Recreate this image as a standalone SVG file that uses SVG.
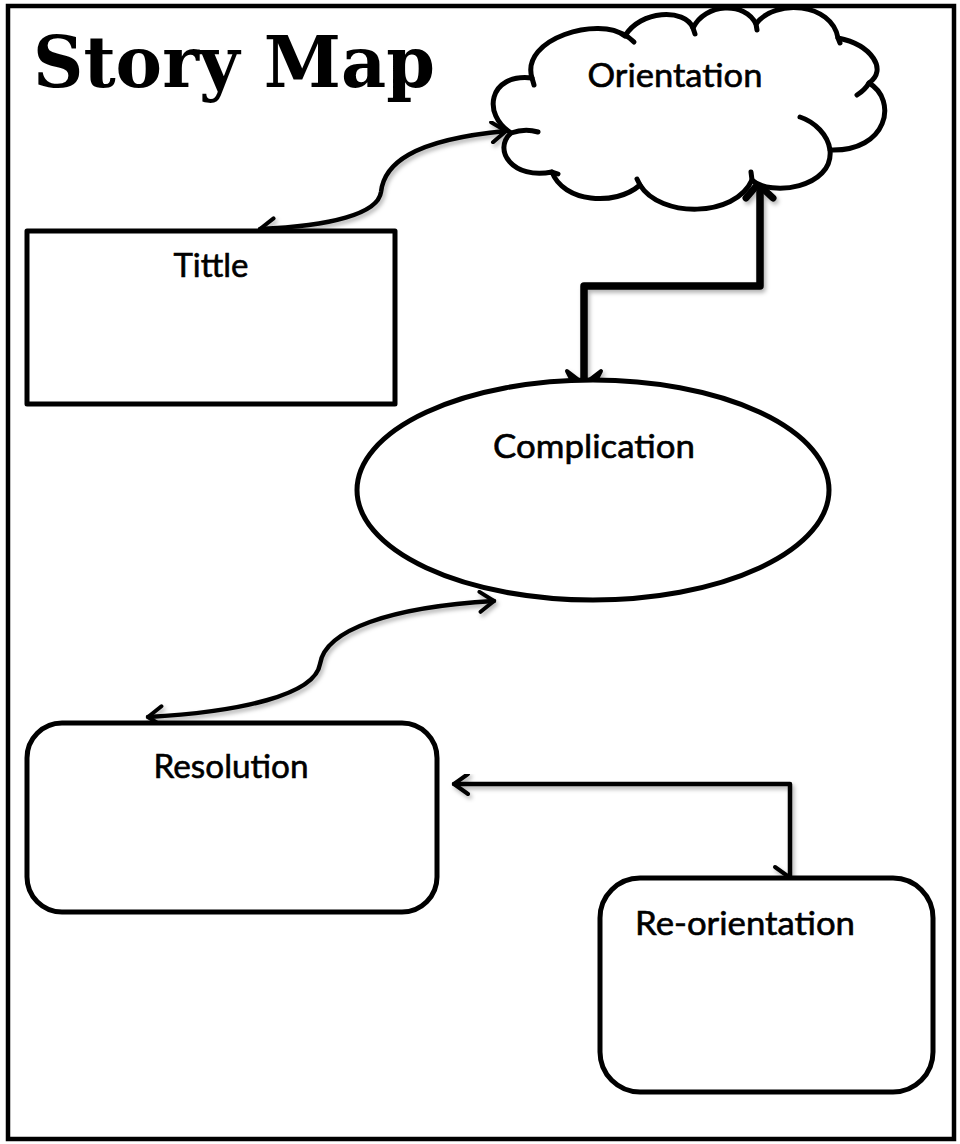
<svg xmlns="http://www.w3.org/2000/svg" width="960" height="1144" viewBox="0 0 960 1144">
  <defs>
    <style>
      .shape { fill: #ffffff; stroke: #000000; stroke-width: 5; }
      .line { fill: none; stroke: #000000; stroke-linecap: round; stroke-linejoin: round; }
      .label { font-family: "Lato", "Open Sans", "Liberation Sans", sans-serif; font-size: 33px; fill: #000000; stroke: #000000; stroke-width: 0.6; }
      .title { font-family: "DejaVu Serif", "Liberation Serif", serif; font-weight: bold; font-size: 71px; fill: #000000; }
    </style>
    <filter id="shadow" x="-10%" y="-10%" width="130%" height="130%">
      <feDropShadow dx="2" dy="3" stdDeviation="2" flood-color="#000000" flood-opacity="0.3"/>
    </filter>
    <marker id="vhead" viewBox="0 0 20 24" markerWidth="20" markerHeight="24" refX="17" refY="12" markerUnits="userSpaceOnUse" orient="auto-start-reverse">
      <path d="M3,2 L17,12 L3,22" fill="none" stroke="#000" stroke-width="4" stroke-linecap="round" stroke-linejoin="round"/>
    </marker>
  </defs>

  <rect id="page-border" x="8" y="6" width="946" height="1133" fill="#ffffff" stroke="#000000" stroke-width="4.5"/>

  <g id="title">
    <text class="title" x="33" y="87" textLength="402" lengthAdjust="spacingAndGlyphs">Story Map</text>
  </g>

  <g id="connectors">
    <path class="line" filter="url(#shadow)" stroke-width="4.5" marker-start="url(#vhead)" marker-end="url(#vhead)" d="M260,229 C330,226 378,214 381,192 C384,165 410,140 506,131"/>
    <path class="line" filter="url(#shadow)" stroke-width="4.5" marker-start="url(#vhead)" marker-end="url(#vhead)" d="M148,717 C240,712 315,695 320,664 C325,630 390,607 494,601"/>
    <g filter="url(#shadow)">
      <path class="line" stroke-width="7.5" d="M760,192 L760,286 L584,286 L584,390"/>
      <path d="M567,371 L584,404 L601,371 L584,384 Z" fill="#000" stroke="#000" stroke-width="4" stroke-linejoin="round"/>
      <path class="line" stroke-width="7" d="M746,198 L758,184 L773,198"/>
    </g>
    <g filter="url(#shadow)">
      <path class="line" stroke-width="4.5" marker-start="url(#vhead)" d="M454,784 L790,784 L790,876"/>
      <path class="line" stroke-width="4" d="M775,867 L789,877"/>
    </g>
  </g>

  <g id="orientation">
    <path class="shape" stroke-linejoin="round" d="M532,78 C520,38 600,16 625,36 C640,10 685,8 693,28 C705,3 745,1 756,24 C775,-2 832,3 838,38 C872,45 888,70 869,83 C898,100 888,152 830,150 C834,188 770,197 752,180 C735,218 660,218 640,185 C615,207 563,202 552,172 C513,180 492,150 511,133 C482,115 488,73 532,78 Z"/>
    <g class="line" stroke-width="5">
      <path d="M532,78 L534,85"/>
      <path d="M623,34 Q629,37 634,42"/>
      <path d="M693,28 L695,34"/>
      <path d="M756,24 L757,30"/>
      <path d="M838,38 L840,43"/>
      <path d="M869,83 Q865,90 857,95"/>
      <path d="M800,117 C815,122 828,135 830,150"/>
      <path d="M752,180 L751,172"/>
      <path d="M640,185 L637,179"/>
      <path d="M552,172 L558,174"/>
      <path d="M511,133 Q525,128 538,132"/>
    </g>
    <text class="label" x="675" y="87" text-anchor="middle" textLength="175" lengthAdjust="spacingAndGlyphs">Orientation</text>
  </g>

  <g id="tittle">
    <rect class="shape" x="27" y="231" width="368" height="173" stroke-linejoin="round"/>
    <text class="label" x="211" y="277" text-anchor="middle" textLength="75" lengthAdjust="spacingAndGlyphs">Tittle</text>
  </g>

  <g id="complication">
    <ellipse class="shape" cx="593" cy="490" rx="236" ry="110"/>
    <text class="label" x="594" y="458" text-anchor="middle" textLength="202" lengthAdjust="spacingAndGlyphs">Complication</text>
  </g>

  <g id="resolution">
    <rect class="shape" x="27" y="723" width="410" height="189" rx="35" ry="35"/>
    <text class="label" x="231" y="778" text-anchor="middle" textLength="155" lengthAdjust="spacingAndGlyphs">Resolution</text>
  </g>

  <g id="re-orientation">
    <rect class="shape" x="600" y="878" width="333" height="214" rx="40" ry="40"/>
    <text class="label" x="635" y="935" textLength="220" lengthAdjust="spacingAndGlyphs">Re-orientation</text>
  </g>
</svg>
